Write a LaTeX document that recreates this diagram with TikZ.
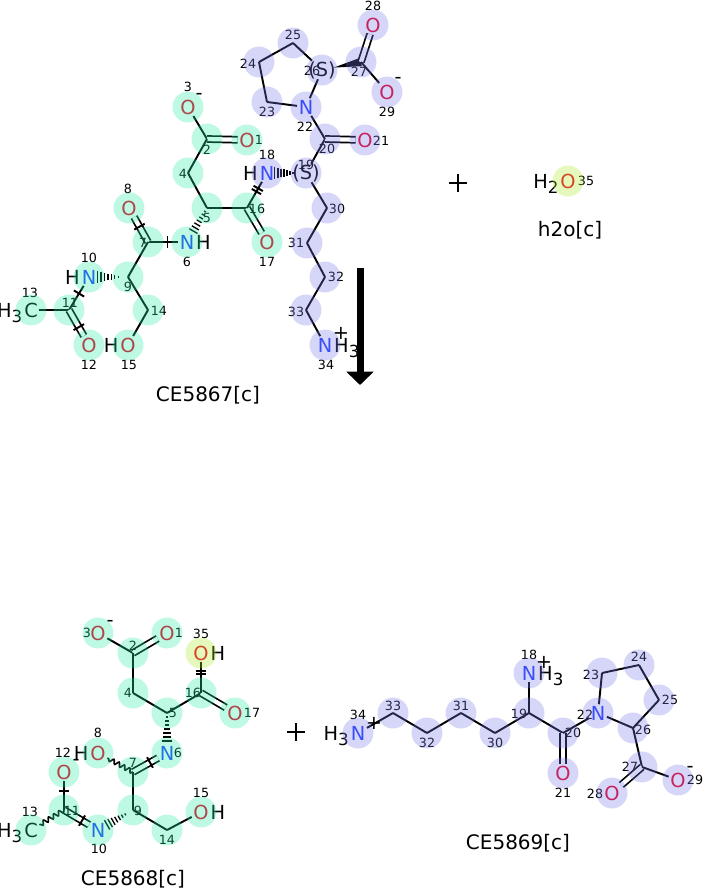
\documentclass[tikz,border=0pt]{standalone}
\usepackage{fontspec}
\setmainfont{DejaVu Sans}
\usetikzlibrary{calc,arrows.meta,decorations.pathmorphing}
\definecolor{ored}{RGB}{230,0,35}
\definecolor{nblue}{RGB}{30,60,255}
\definecolor{hlg}{RGB}{38,238,165}
\definecolor{hlb}{RGB}{122,122,238}
\definecolor{hly}{RGB}{172,238,38}
\newcommand{\subs}[1]{\raisebox{-4pt}{\fontsize{12.5}{12.5}\selectfont #1}}
\newcommand{\hashb}[5]{%
  \foreach \k in {0,...,6}{%
    \pgfmathsetmacro{\myt}{#3+(#4-#3)*\k/6}%
    \pgfmathsetlengthmacro{\myw}{#5*(0.2+0.8*\k/6)}%
    \draw[hashline] ($(#1)!\myt!(#2)!\myw!90:(#2)$) -- ($(#1)!\myt!(#2)!\myw!-90:(#2)$);
  }}
\newcommand{\btick}[4]{\draw[bond] ($(#1)!#3!(#2)!#4!90:(#2)$) -- ($(#1)!#3!(#2)!#4!-90:(#2)$);}
\newcommand{\wedgeb}[4]{\fill ($(#1)!#3!(#2)$) -- ($(#2)!#4!90:(#1)$) -- ($(#2)!#4!-90:(#1)$) -- cycle;}
\begin{document}
\begin{tikzpicture}[x=0.75pt,y=-0.75pt,
 bond/.style={line width=1.45pt},
 dbond/.style={line width=1.3pt, double=white, double distance=3.2pt},
 hashline/.style={line width=1pt},
 wavy/.style={line width=1.2pt, decorate, decoration={snake, amplitude=1.6pt, segment length=4.5pt}},
 atom/.style={inner sep=1.1pt, font=\fontsize{14.5}{14.5}\selectfont},
 oat/.style={atom, text=ored},
 nat/.style={atom, text=nblue},
 cat/.style={atom},
 sat/.style={atom, inner sep=0.3pt},
 hat/.style={inner sep=0pt, font=\fontsize{14.5}{14.5}\selectfont},
 num/.style={inner sep=0pt, font=\fontsize{9.5}{10}\selectfont},
 chg/.style={inner sep=0pt, font=\fontsize{14.5}{14.5}\selectfont},
 title/.style={inner sep=0pt, font=\fontsize{15}{16}\selectfont},
 hl/.style={fill opacity=0.3}]
\useasboundingbox (0,0) rectangle (704,891);
\fill[white] (0,0) rectangle (704,891);

% ===== top molecule CE5867 =====
\node[oat] (a3) at (188,107) {O};
\coordinate (a2) at (207,139);
\node[oat] (a1) at (247,140) {O};
\coordinate (a4) at (188,173);
\coordinate (a5) at (207,208);
\coordinate (a16) at (247,208);
\node[oat] (a17) at (267,242) {O};
\node[nat] (a6) at (187,242) {N};
\coordinate (a7) at (148,242);
\node[oat] (a8) at (129,208) {O};
\coordinate (a9) at (128,277);
\node[nat] (a10) at (89,277) {N};
\coordinate (a11) at (69,310);
\node[cat] (a13) at (31,310) {C};
\node[oat] (a12) at (89,345) {O};
\coordinate (a14) at (148,310);
\node[oat] (a15) at (128,345) {O};
\node[nat] (a18) at (267,173) {N};
\node[num] at (306,165) {19};
\node[sat] (a19) at (306,173) {(S)};
\coordinate (a20) at (325,139);
\node[oat] (a21) at (365,140) {O};
\node[nat] (a22) at (306,107) {N};
\coordinate (a23) at (267,102);
\coordinate (a24) at (259,62);
\coordinate (a25) at (293,43);
\node[num] at (312,71) {26};
\node[sat] (a26) at (322,70) {(S)};
\coordinate (a27) at (361,62);
\node[oat] (a28) at (373,25) {O};
\node[oat] (a29) at (387,92) {O};
\coordinate (a30) at (327,208);
\coordinate (a31) at (307,243);
\coordinate (a32) at (325,277);
\coordinate (a33) at (306,310);
\node[nat] (a34) at (325,345) {N};

\draw[bond] (a3) -- (a2);
\draw[dbond] (a2) -- (a1);
\draw[bond] (a2) -- (a4);
\draw[bond] (a4) -- (a5);
\draw[bond] (a5) -- (a16);
\draw[dbond] (a16) -- (a17);
\draw[bond] (a16) -- (a18);
\btick{a16}{a18}{0.47}{4pt}
\btick{a16}{a18}{0.56}{4pt}
\hashb{a5}{a6}{0.1}{0.68}{3.5pt}
\draw[bond] (a6) -- (a7);
\btick{a7}{a6}{0.5}{4.5pt}
\draw[dbond] (a7) -- (a8);
\btick{a7}{a8}{0.45}{4.5pt}
\draw[bond] (a7) -- (a9);
\hashb{a9}{a10}{0.25}{0.78}{4.2pt}
\draw[bond] (a10) -- (a11);
\btick{a11}{a10}{0.5}{4.5pt}
\draw[bond] (a11) -- (a13);
\draw[dbond] (a11) -- (a12);
\btick{a11}{a12}{0.49}{4.5pt}
\draw[bond] (a9) -- (a14);
\draw[bond] (a14) -- (a15);
\hashb{a19}{a18}{0.33}{0.8}{4.5pt}
\draw[bond] (a19) -- (a20);
\draw[dbond] (a20) -- (a21);
\draw[bond] (a20) -- (a22);
\draw[bond] (a22) -- (a23);
\draw[bond] (a23) -- (a24);
\draw[bond] (a24) -- (a25);
\draw[bond] (a25) -- (a26);
\draw[bond] (a26) -- (a22);
\wedgeb{a26}{a27}{0.3}{3.2pt}
\draw[dbond] (a27) -- (a28);
\draw[bond] (a27) -- (a29);
\draw[bond] (a19) -- (a30);
\draw[bond] (a30) -- (a31);
\draw[bond] (a31) -- (a32);
\draw[bond] (a32) -- (a33);
\draw[bond] (a33) -- (a34);

\node[hat,anchor=base east] at (a18.base west) {H};
\node[hat,anchor=base west] at (a6.base east) {H};
\node[hat,anchor=base east] at (a10.base west) {H};
\node[hat,anchor=base east] at (a13.base west) {H\subs{3}};
\node[hat,anchor=base east] at (a15.base west) {H};
\node[hat,anchor=base west] at (a34.base east) {H\subs{3}};
\node[chg] at (341,333) {+};
\node[chg] at (199,96) {-};
\node[chg] at (398,80) {-};

\node[num] at (188,87) {3};
\node[num] at (259,140) {1};
\node[num] at (207,150) {2};
\node[num] at (183,174) {4};
\node[num] at (207,218) {5};
\node[num] at (257,209) {16};
\node[num] at (267,262) {17};
\node[num] at (187,262) {6};
\node[num] at (143,243) {7};
\node[num] at (128,189) {8};
\node[num] at (89,258) {10};
\node[num] at (128,287) {9};
\node[num] at (70,303) {11};
\node[num] at (30,293) {13};
\node[num] at (89,365) {12};
\node[num] at (159,311) {14};
\node[num] at (129,365) {15};
\node[num] at (267,155) {18};
\node[num] at (327,149) {20};
\node[num] at (381,141) {21};
\node[num] at (305,127) {22};
\node[num] at (267,112) {23};
\node[num] at (248,64) {24};
\node[num] at (293,35) {25};
\node[num] at (359,72) {27};
\node[num] at (373,6) {28};
\node[num] at (387,112) {29};
\node[num] at (337,209) {30};
\node[num] at (296,243) {31};
\node[num] at (336,277) {32};
\node[num] at (296,312) {33};
\node[num] at (326,365) {34};
\node[title] at (208,395) {CE5867[c]};

% ===== water =====
\draw[line width=1.5pt] (449,183) -- (467,183) (458,174) -- (458,192);
\node[oat] (w35) at (568,181) {O};
\node[hat,anchor=base east] at (w35.base west) {H\subs{2}};
\node[num] at (586,181) {35};
\node[title] at (570,230) {h2o[c]};

% ===== reaction arrow =====
\coordinate (arrs) at (360,268);
\coordinate (arre) at (360,385);
\draw[line width=5.25pt, -{Triangle[width=20pt,length=10pt]}] (arrs) -- (arre);

% ===== bottom-left CE5868 =====
\node[oat] (b3) at (98,633) {O};
\coordinate (b2) at (133,653);
\node[oat] (b1) at (167,633) {O};
\node[oat] (b35) at (201,653) {O};
\coordinate (b4) at (133,693);
\coordinate (b16) at (201,693);
\coordinate (b5) at (167,713);
\node[oat] (b17) at (235,713) {O};
\node[nat] (b6) at (167,753) {N};
\node[oat] (b8) at (98,753) {O};
\coordinate (b7) at (133,772);
\node[oat] (b12) at (64,772) {O};
\coordinate (b9) at (133,810);
\coordinate (b11) at (64,810);
\node[cat] (b13) at (31,830) {C};
\node[nat] (b10) at (98,830) {N};
\coordinate (b14) at (167,830);
\node[oat] (b15) at (201,812) {O};

\draw[bond] (b3) -- (b2);
\draw[dbond] (b2) -- (b1);
\draw[bond] (b2) -- (b4);
\draw[bond] (b4) -- (b5);
\draw[bond] (b5) -- (b16);
\draw[dbond] (b16) -- (b17);
\draw[bond] (b16) -- (b35);
\btick{b16}{b35}{0.47}{4pt}
\btick{b16}{b35}{0.56}{4pt}
\hashb{b5}{b6}{0.1}{0.7}{3.8pt}
\draw[dbond] (b6) -- (b7);
\btick{b7}{b6}{0.5}{4.5pt}
\draw[wavy] (b7) -- (b8);
\draw[bond] (b7) -- (b9);
\hashb{b9}{b10}{0.22}{0.74}{4pt}
\draw[dbond] (b10) -- (b11);
\btick{b11}{b10}{0.53}{4.5pt}
\draw[bond] (b11) -- (b12);
\btick{b11}{b12}{0.5}{4pt}
\draw[wavy] (b11) -- (b13);
\draw[bond] (b9) -- (b14);
\draw[bond] (b14) -- (b15);

\node[hat,anchor=base west] at (b35.base east) {H};
\node[hat,anchor=base east] at (b8.base west) {H};
\node[hat,anchor=base west] at (b15.base east) {H};
\node[hat,anchor=base east] at (b13.base west) {H\subs{3}};
\node[chg] at (110,623) {-};
\node[chg] at (76,762) {-};

\node[num] at (87,633) {3};
\node[num] at (179,633) {1};
\node[num] at (133,646) {2};
\node[num] at (201,634) {35};
\node[num] at (128,693) {4};
\node[num] at (193,693) {16};
\node[num] at (173,713) {5};
\node[num] at (252,713) {17};
\node[num] at (178,753) {6};
\node[num] at (98,733) {8};
\node[num] at (63,753) {12};
\node[num] at (133,763) {7};
\node[num] at (138,811) {9};
\node[num] at (72,811) {11};
\node[num] at (30,812) {13};
\node[num] at (99,849) {10};
\node[num] at (167,840) {14};
\node[num] at (201,793) {15};
\node[title] at (133,879) {CE5868[c]};

\draw[line width=1.5pt] (287,732) -- (305,732) (296,723) -- (296,741);

% ===== bottom-right CE5869 =====
\node[nat] (r34) at (358,733) {N};
\coordinate (r33) at (393,713);
\coordinate (r32) at (427,733);
\coordinate (r31) at (461,713);
\coordinate (r30) at (495,733);
\coordinate (r19) at (529,713);
\node[nat] (r18) at (529,673) {N};
\coordinate (r20) at (563,733);
\node[oat] (r21) at (563,773) {O};
\node[nat] (r22) at (598,713) {N};
\coordinate (r23) at (602,673);
\coordinate (r24) at (639,665);
\coordinate (r25) at (659,700);
\coordinate (r26) at (633,728);
\coordinate (r27) at (642,767);
\node[oat] (r28) at (612,793) {O};
\node[oat] (r29) at (678,780) {O};

\draw[bond] (r34) -- (r33);
\draw[bond] (r33) -- (r32);
\draw[bond] (r32) -- (r31);
\draw[bond] (r31) -- (r30);
\draw[bond] (r30) -- (r19);
\draw[bond] (r19) -- (r18);
\draw[bond] (r19) -- (r20);
\draw[dbond] (r20) -- (r21);
\draw[bond] (r20) -- (r22);
\draw[bond] (r22) -- (r23);
\draw[bond] (r23) -- (r24);
\draw[bond] (r24) -- (r25);
\draw[bond] (r25) -- (r26);
\draw[bond] (r26) -- (r22);
\draw[bond] (r26) -- (r27);
\draw[dbond] (r27) -- (r28);
\draw[bond] (r27) -- (r29);

\node[hat,anchor=base east] at (r34.base west) {H\subs{3}};
\node[hat,anchor=base west] at (r18.base east) {H\subs{3}};
\node[chg] at (374,723) {+};
\node[chg] at (544,662) {+};
\node[chg] at (690,769) {-};

\node[num] at (358,715) {34};
\node[num] at (393,706) {33};
\node[num] at (427,743) {32};
\node[num] at (461,706) {31};
\node[num] at (495,743) {30};
\node[num] at (519,714) {19};
\node[num] at (529,655) {18};
\node[num] at (573,733) {20};
\node[num] at (563,793) {21};
\node[num] at (585,715) {22};
\node[num] at (591,675) {23};
\node[num] at (639,657) {24};
\node[num] at (670,700) {25};
\node[num] at (643,730) {26};
\node[num] at (630,767) {27};
\node[num] at (595,794) {28};
\node[num] at (695,780) {29};
\node[title] at (518,843) {CE5869[c]};

% ===== highlight circles =====
\foreach \n in {a1,a2,a3,a4,a5,a6,a7,a8,a9,a10,a11,a12,a13,a14,a15,a16,a17,
  b1,b2,b3,b4,b5,b6,b7,b8,b9,b10,b11,b12,b13,b14,b15,b16,b17}
  {\fill[hlg,hl] (\n) circle[radius=11.6pt];}
\foreach \n in {a18,a19,a20,a21,a22,a23,a24,a25,a26,a27,a28,a29,a30,a31,a32,a33,a34,
  r18,r19,r20,r21,r22,r23,r24,r25,r26,r27,r28,r29,r30,r31,r32,r33,r34}
  {\fill[hlb,hl] (\n) circle[radius=11.6pt];}
\foreach \n in {w35,b35}
  {\fill[hly,hl] (\n) circle[radius=11.6pt];}
\end{tikzpicture}
\end{document}
